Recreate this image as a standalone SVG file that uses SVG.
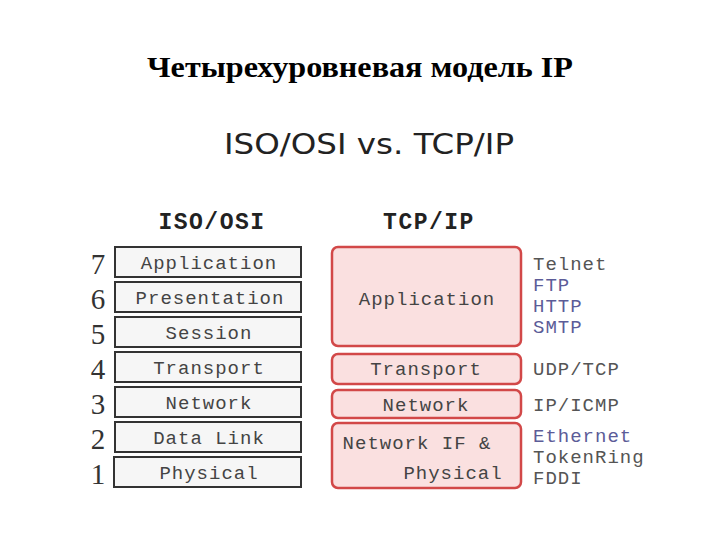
<svg xmlns="http://www.w3.org/2000/svg" width="720" height="540" viewBox="0 0 720 540">
<style>
.title{font-family:"Liberation Serif",serif;font-weight:bold;font-size:29px;fill:#000}
.sub{font-family:"DejaVu Sans","Liberation Sans",sans-serif;font-size:28px;fill:#222}
.hdr{font-family:"Liberation Mono",monospace;font-weight:bold;font-size:23px;fill:#222;letter-spacing:1.5px}
.num{font-family:"Liberation Serif",serif;font-size:29px;fill:#333;text-anchor:middle}
.osi{fill:#f6f6f6;stroke:#333;stroke-width:2}
.tcp{fill:#fae0e0;stroke:#d24848;stroke-width:2.5}
.lbl{font-family:"Liberation Mono",monospace;font-size:19px;fill:#444;letter-spacing:1px;text-anchor:middle}
.proto{font-family:"Liberation Mono",monospace;font-size:19px;fill:#555;letter-spacing:1px}
.blue{fill:#5c5c98}
</style>
<rect width="720" height="540" fill="#fff"/>
<text class="title" x="360" y="77" text-anchor="middle" textLength="426" lengthAdjust="spacingAndGlyphs">Четырехуровневая модель IP</text>
<text class="sub" x="224" y="154" textLength="290" lengthAdjust="spacingAndGlyphs">ISO/OSI vs. TCP/IP</text>
<text class="hdr" x="212" y="229" text-anchor="middle">ISO/OSI</text>
<text class="hdr" x="429" y="229" text-anchor="middle">TCP/IP</text>
<g id="osi7"><text class="num" x="98" y="274">7</text><rect class="osi" x="115" y="247" width="186" height="30"/><text class="lbl" x="209" y="269">Application</text></g>
<g id="osi6"><text class="num" x="98" y="309">6</text><rect class="osi" x="115" y="282" width="186" height="30"/><text class="lbl" x="210" y="304">Presentation</text></g>
<g id="osi5"><text class="num" x="98" y="344">5</text><rect class="osi" x="115" y="317" width="186" height="30"/><text class="lbl" x="209" y="339">Session</text></g>
<g id="osi4"><text class="num" x="98" y="379">4</text><rect class="osi" x="115" y="352" width="186" height="30"/><text class="lbl" x="209" y="374">Transport</text></g>
<g id="osi3"><text class="num" x="98" y="414">3</text><rect class="osi" x="115" y="387" width="186" height="30"/><text class="lbl" x="209" y="409">Network</text></g>
<g id="osi2"><text class="num" x="98" y="449">2</text><rect class="osi" x="115" y="422" width="186" height="30"/><text class="lbl" x="209" y="444">Data Link</text></g>
<g id="osi1"><text class="num" x="98" y="484">1</text><rect class="osi" x="114" y="457" width="187" height="30"/><text class="lbl" x="209" y="479">Physical</text></g>
<g id="tcp-app"><rect class="tcp" x="332" y="247" width="189" height="99" rx="6"/><text class="lbl" x="427" y="305">Application</text></g>
<g id="tcp-transport"><rect class="tcp" x="332" y="354" width="189" height="30" rx="6"/><text class="lbl" x="426" y="375">Transport</text></g>
<g id="tcp-network"><rect class="tcp" x="332" y="390" width="189" height="28" rx="6"/><text class="lbl" x="426" y="411">Network</text></g>
<g id="tcp-netif"><rect class="tcp" x="332" y="423" width="189" height="65" rx="6"/><text class="lbl" x="417" y="449">Network IF &amp;</text><text class="lbl" x="453" y="479">Physical</text></g>
<g id="protocols">
<text class="proto" x="533" y="270">Telnet</text>
<text class="proto blue" x="533" y="291">FTP</text>
<text class="proto blue" x="533" y="312">HTTP</text>
<text class="proto blue" x="533" y="333">SMTP</text>
<text class="proto" x="533" y="375">UDP/TCP</text>
<text class="proto" x="533" y="411">IP/ICMP</text>
<text class="proto blue" x="533" y="442">Ethernet</text>
<text class="proto" x="533" y="463">TokenRing</text>
<text class="proto" x="533" y="484">FDDI</text>
</g>
<g id="connectors"/>
</svg>
